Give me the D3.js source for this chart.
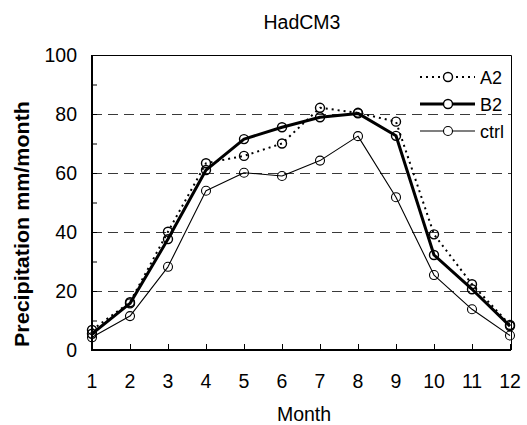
<!DOCTYPE html>
<html>
<head>
<meta charset="utf-8">
<script src="https://cdn.jsdelivr.net/npm/d3@7"></script>
<style>
  html, body { margin: 0; padding: 0; background: #fff; }
  svg text { font-family: "Liberation Sans", Arial, sans-serif; fill: #000; }
</style>
</head>
<body>
<svg id="chart" width="527" height="425"></svg>
<script>
// Monthly precipitation (mm/month), HadCM3 scenarios vs control run
const months = [1, 2, 3, 4, 5, 6, 7, 8, 9, 10, 11, 12];
const a2 = [6.8, 16.2, 40.1, 63.3, 65.8, 70.0, 82.1, 80.4, 77.4, 39.2, 22.3, 8.5];
const b2 = [5.5, 15.8, 37.6, 61.0, 71.5, 75.5, 78.9, 80.2, 72.6, 32.2, 20.6, 8.1];
const ctrl = [4.3, 11.5, 28.2, 54.0, 60.1, 59.0, 64.2, 72.5, 51.8, 25.4, 13.8, 4.9];
const yTicks = [0, 20, 40, 60, 80, 100];
const yMinorTicks = [10, 30, 50, 70, 90];
const gridValues = [20, 40, 60, 80];
const seriesNames = ["A2", "B2", "ctrl"];

const svg = d3.select("#chart");
const plot = { left: 92, right: 510, top: 55, bottom: 350 };

const x = d3.scaleLinear().domain([1, 12]).range([plot.left, plot.right]);
const y = d3.scaleLinear().domain([0, 100]).range([plot.bottom, plot.top]);

// Dashed horizontal gridlines
svg.append("g").selectAll("line").data(gridValues).join("line")
  .attr("x1", plot.left).attr("x2", plot.right + 1)
  .attr("y1", d => Math.round(y(d)) + 0.5).attr("y2", d => Math.round(y(d)) + 0.5)
  .attr("stroke", "#3a3a3a").attr("stroke-width", 1)
  .attr("stroke-dasharray", "10,6");

// Plot frame (top and right edges)
svg.append("path")
  .attr("d", `M${plot.left},${plot.top + 0.5}H${plot.right + 1.5}V${plot.bottom}`)
  .attr("fill", "none").attr("stroke", "#000").attr("stroke-width", 1);

// Y axis with inward ticks
const yAxis = d3.axisRight(y).tickValues(yTicks.concat(yMinorTicks)).tickSize(5).tickFormat("");
const gy = svg.append("g").attr("transform", `translate(${plot.left},0)`).call(yAxis);
gy.select(".domain").attr("stroke-width", 2).attr("d", `M0,${plot.top}V${plot.bottom + 1}`);
gy.selectAll(".tick line").attr("stroke-width", 1);

svg.append("g").selectAll("text").data(yTicks).join("text")
  .attr("x", 77).attr("y", d => y(d) + 7)
  .attr("text-anchor", "end").attr("font-size", 19.5)
  .text(d => d);

// X axis with inward ticks
const xAxis = d3.axisTop(x).tickValues(months).tickSize(6).tickFormat("");
const gx = svg.append("g").attr("transform", `translate(0,${plot.bottom})`).call(xAxis);
gx.select(".domain").attr("stroke-width", 2).attr("d", `M${plot.left - 1},0H${plot.right + 1}`);
gx.selectAll(".tick line").attr("stroke-width", 1);

svg.append("g").selectAll("text").data(months).join("text")
  .attr("x", d => x(d)).attr("y", 388)
  .attr("text-anchor", "middle").attr("font-size", 19.5)
  .text(d => d);

// Titles
svg.append("text").attr("x", 302).attr("y", 29).attr("text-anchor", "middle")
  .attr("font-size", 19.5).text("HadCM3");
svg.append("text").attr("x", 304).attr("y", 421).attr("text-anchor", "middle")
  .attr("font-size", 19.5).text("Month");
svg.append("text")
  .attr("transform", "translate(29,224) rotate(-90)")
  .attr("text-anchor", "middle").attr("font-size", 19.5).attr("font-weight", "bold")
  .attr("textLength", 246).attr("lengthAdjust", "spacingAndGlyphs")
  .text("Precipitation mm/month");

// Series styles
const styles = {
  A2: { values: a2, width: 2, dash: "2,4", cw: 1.4 },
  B2: { values: b2, width: 3, dash: null, cw: 1.4 },
  ctrl: { values: ctrl, width: 1.1, dash: null, cw: 1.1 }
};

const line = d3.line().x((d, i) => x(months[i])).y(d => y(d));

["ctrl", "B2", "A2"].forEach(name => {
  const s = styles[name];
  const g = svg.append("g");
  g.append("path").datum(s.values)
    .attr("d", line).attr("fill", "none").attr("stroke", "#000")
    .attr("stroke-width", s.width)
    .attr("stroke-dasharray", s.dash)
    .attr("stroke-linejoin", "round");
  g.selectAll("circle").data(s.values).join("circle")
    .attr("cx", (d, i) => x(months[i])).attr("cy", d => y(d))
    .attr("r", 4.5).attr("fill", "none").attr("stroke", "#000")
    .attr("stroke-width", s.cw);
});

// Legend
const legend = svg.append("g");
seriesNames.forEach((name, i) => {
  const s = styles[name];
  const ly = 77 + i * 27;
  legend.append("line").attr("x1", 420).attr("x2", 475).attr("y1", ly).attr("y2", ly)
    .attr("stroke", "#000").attr("stroke-width", s.width).attr("stroke-dasharray", s.dash);
  legend.append("circle").attr("cx", 448).attr("cy", ly).attr("r", 4.5)
    .attr("fill", "#fff").attr("stroke", "#000").attr("stroke-width", s.cw);
  legend.append("text").attr("x", 480).attr("y", ly + 6.5).attr("font-size", 18)
    .text(name);
});
</script>
</body>
</html>
